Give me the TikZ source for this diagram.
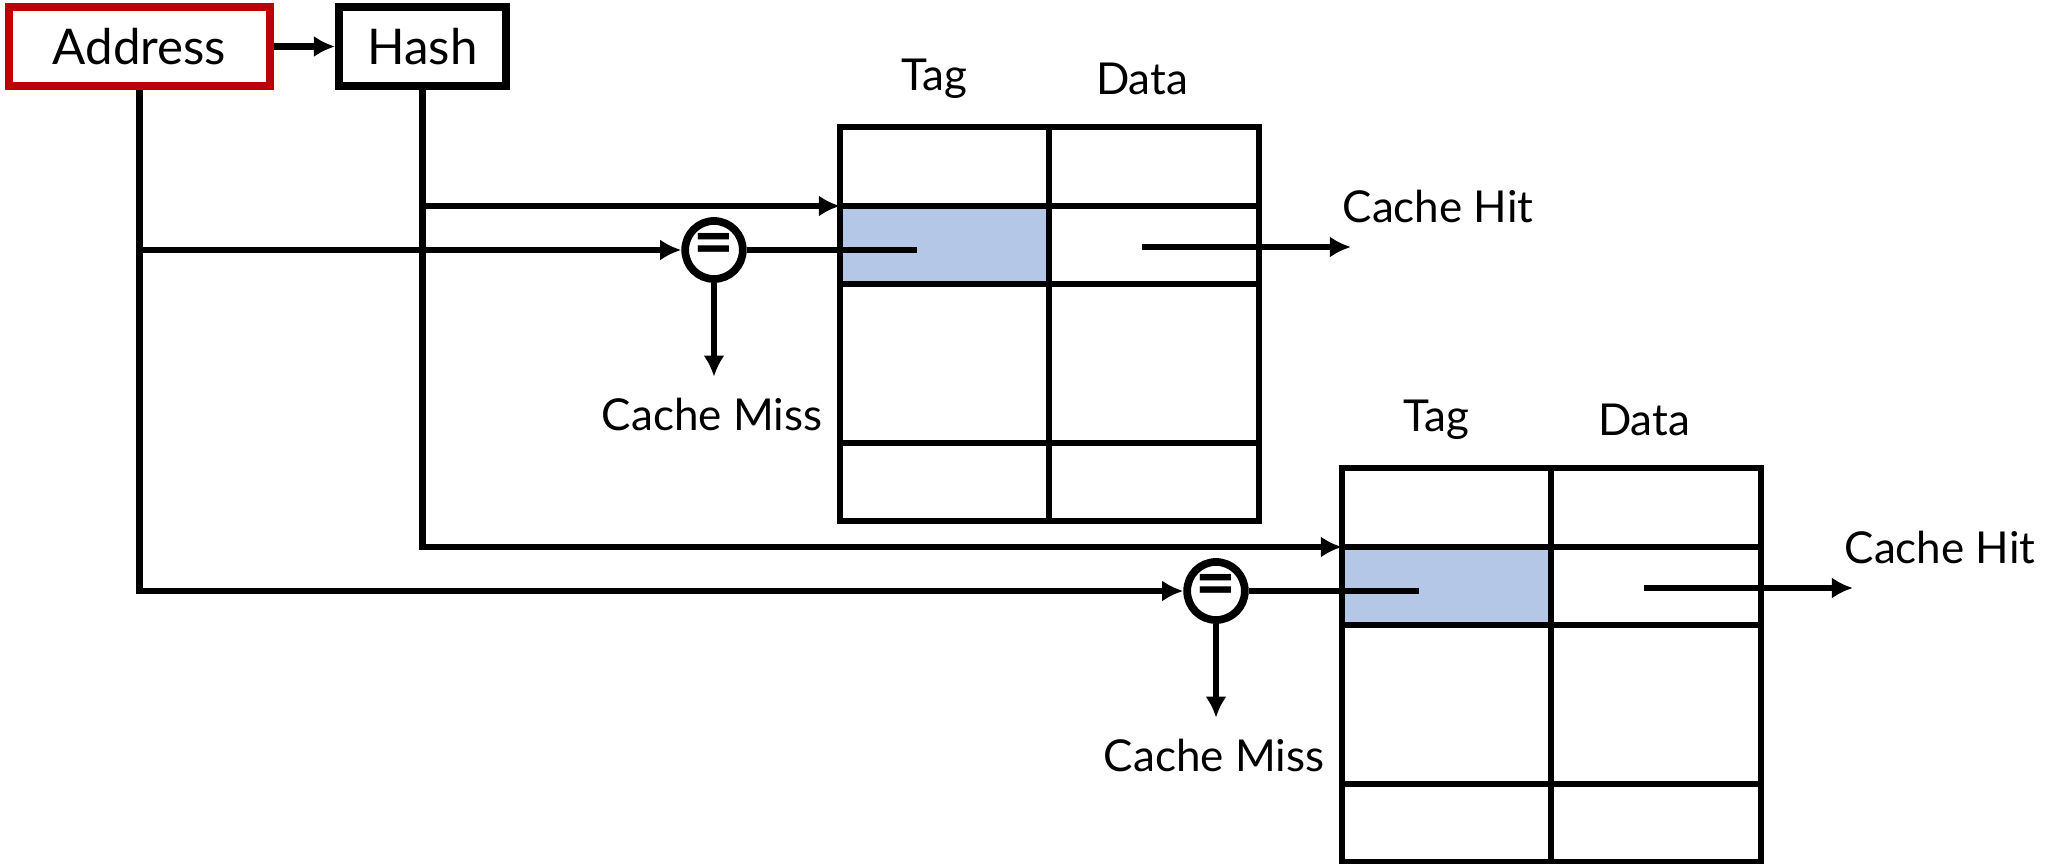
\documentclass[tikz,border=0pt]{standalone}
\usepackage{fontspec}
\setmainfont{Lato}
\usetikzlibrary{positioning, arrows.meta, shapes.geometric}
\definecolor{addrred}{HTML}{C00000}
\definecolor{tagblue}{HTML}{B4C7E7}

\begin{document}
\begin{tikzpicture}[x=0.01cm, y=-0.01cm, line width=1.9pt,
    box/.style={draw, line width=2.2pt, minimum height=0.79cm, inner sep=0pt, font=\fontsize{14}{17}\selectfont},
    cmp/.style={draw, ellipse, line width=2.2pt, minimum width=0.52cm, minimum height=0.58cm, inner sep=0pt, font=\fontsize{20}{20}\selectfont\bfseries},
    lbl/.style={font=\fontsize{12.5}{15}\selectfont},
    arr/.style={-{Latex[length=6pt,width=6pt]}}
]
    \useasboundingbox (0,0) rectangle (2054,864);

    \node[box, draw=addrred, minimum width=2.61cm] (addr) at (139.5,46.5) {Address};
    \node[box, minimum width=1.67cm] (hash) at (422.5,46.5) {Hash};
    \draw[arr] (addr) -- (hash);

    % one way of the cache per pass
    \foreach \w/\dx/\dy in {1/0/0, 2/502/341} {
        \begin{scope}[shift={(\dx,\dy)}]
            \fill[tagblue] (840,206) rectangle (1049,284);
            \draw (840,127) rectangle (1259,521);
            \draw (1049,127) -- (1049,521);
            \foreach \r in {206,284,443}
                \draw (840,\r) -- (1259,\r);
            \node[lbl] (tag\w) at (934,79) {Tag};
            \node[lbl] (data\w) at (1142,79) {Data};
            \coordinate (set\w) at (840,206);
            \coordinate (tagin\w) at (917,250);
            \coordinate (dataout\w) at (1142,247);
            \coordinate (hit\w) at (1351,247);
            \node[cmp] (cmp\w) at (714,250) {=};
            \node[lbl, inner sep=5pt] (miss\w) at (712,414) {Cache Miss};
            \node[lbl] (hitlbl\w) at (1438,206) {Cache Hit};
            \draw (cmp\w) -- (tagin\w);
            \draw[arr] (dataout\w) -- (hit\w);
            \draw[arr] (cmp\w) -- (cmp\w |- miss\w.north);
        \end{scope}
    }

    \draw[arr] (addr.south) |- (cmp1);
    \draw[arr] (addr.south) |- (cmp2);
    \draw[arr] (hash.south) |- (set1);
    \draw[arr] (hash.south) |- (set2);
\end{tikzpicture}
\end{document}
